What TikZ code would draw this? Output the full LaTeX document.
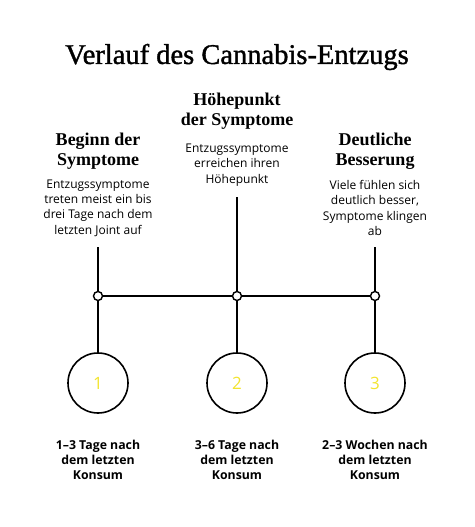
\documentclass[tikz,border=0pt]{standalone}
\usepackage{fontspec}
\setmainfont{Liberation Serif}
\setsansfont{Open Sans}
\usetikzlibrary{positioning}
\definecolor{numyellow}{HTML}{F2E42E}
\tikzset{
    title/.style={font=\addfontfeature{FakeBold=1.3}\fontsize{28.5}{32}\selectfont, align=center},
    head/.style={font=\bfseries\fontsize{18}{19.5}\selectfont, align=center},
    note/.style={font=\sffamily\fontsize{12}{15.3}\selectfont, align=center},
    span/.style={font=\sffamily\bfseries\fontsize{12.3}{15}\selectfont, align=center},
    stem/.style={line width=1.6pt},
    joint/.style={circle, draw, line width=1.4pt, fill=white,
                  minimum size=9pt, inner sep=0pt},
    stage/.style={circle, draw, line width=1.6pt, minimum size=60pt,
                  inner sep=0pt, text=numyellow,
                  font=\sffamily\fontsize{17}{17}\selectfont},
}

\begin{document}
\begin{tikzpicture}[x=1pt, y=-1pt]
    \path[use as bounding box] (0,0) rectangle (474,527);

    \node[title] (heading) at (237,57) {Verlauf des Cannabis-Entzugs};

    % column titles and notes
    \node[head] (onset) at (98,151) {Beginn der\\Symptome};
    \node[head] (peak) at (237,111) {Höhepunkt\\der Symptome};
    \node[head] (relief) at (375,151) {Deutliche\\Besserung};

    \node[note] (onsetnote) at (98,208) {Entzugssymptome\\treten meist ein bis\\drei Tage nach dem\\letzten Joint auf};
    \node[note] (peaknote) at (237,165) {Entzugssymptome\\erreichen ihren\\Höhepunkt};
    \node[note] (reliefnote) at (375,208) {Viele fühlen sich\\deutlich besser,\\Symptome klingen\\ab};

    % timeline
    \coordinate (onsettop) at (98,247);
    \coordinate (peaktop) at (237,197);
    \coordinate (relieftop) at (375,247);
    \node[joint] (j1) at (98,296) {};
    \node[joint] (j2) at (237,296) {};
    \node[joint] (j3) at (375,296) {};
    \draw[stem] (j1) -- (j2);
    \draw[stem] (j2) -- (j3);
    \draw[stem] (onsettop) -- (j1);
    \draw[stem] (peaktop) -- (j2);
    \draw[stem] (relieftop) -- (j3);

    \node[stage] (s1) at (98,383) {1};
    \node[stage] (s2) at (237,383) {2};
    \node[stage] (s3) at (375,383) {3};
    \draw[stem] (j1) -- (s1);
    \draw[stem] (j2) -- (s2);
    \draw[stem] (j3) -- (s3);

    \node[span] (d1) at (98,460) {1–3 Tage nach\\dem letzten\\Konsum};
    \node[span] (d2) at (237,460) {3–6 Tage nach\\dem letzten\\Konsum};
    \node[span] (d3) at (375,460) {2–3 Wochen nach\\dem letzten\\Konsum};

\end{tikzpicture}
\end{document}
